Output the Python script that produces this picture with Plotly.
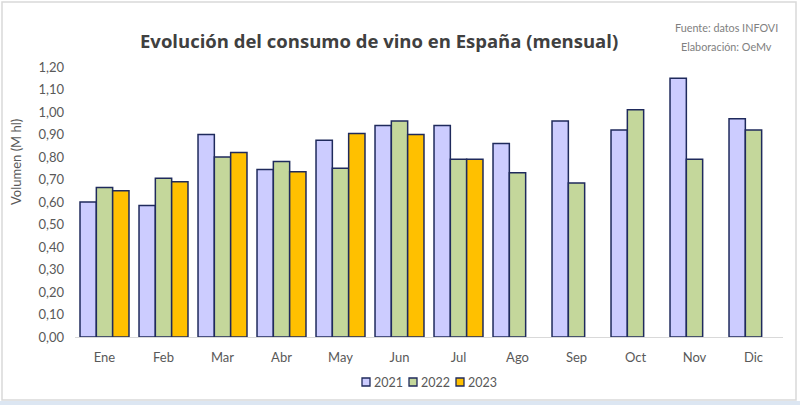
import plotly.graph_objects as go

months = ["Ene", "Feb", "Mar", "Abr", "May", "Jun", "Jul", "Ago", "Sep", "Oct", "Nov", "Dic"]
v2021 = [0.60, 0.585, 0.90, 0.745, 0.875, 0.94, 0.94, 0.86, 0.96, 0.92, 1.15, 0.97]
v2022 = [0.665, 0.706, 0.80, 0.78, 0.75, 0.96, 0.79, 0.73, 0.685, 1.01, 0.79, 0.92]
v2023 = [0.65, 0.69, 0.82, 0.735, 0.905, 0.90, 0.79, None, None, None, None, None]
series_names = ["2021", "2022", "2023"]
colors = ["#CCCCFF", "#C4D79B", "#FFC000"]
tick_vals = [i / 10 for i in range(13)]

W, H = 800, 405
L, R, T, B = 75, 17, 67, 68
pw, ph = W - L - R, H - T - B
EDGE = "#1F2A5C"
TXT = "#595959"

def px(x):
    return (x - L) / pw

def py(y):
    return (H - B - y) / ph

fig = go.Figure()
for name, vals, col in zip(series_names, [v2021, v2022, v2023], colors):
    fig.add_trace(go.Bar(
        x=months, y=vals, name=name, showlegend=False,
        marker=dict(color=col, line=dict(color=EDGE, width=1.5)),
    ))

fig.update_layout(
    width=W, height=H,
    margin=dict(l=L, r=R, t=T, b=B),
    paper_bgcolor="white", plot_bgcolor="white",
    separators=",.",
    barmode="group", bargap=0.17, bargroupgap=0,
    font=dict(family="Lato, Open Sans, sans-serif", color=TXT, size=12),
    xaxis=dict(
        showline=True, linecolor="#D9D9D9", linewidth=1,
        showgrid=False, ticks="", tickfont=dict(size=13, color=TXT),
        ticklabelstandoff=8,
    ),
    yaxis=dict(
        range=[0, 1.2], tickvals=tick_vals, tickformat=".2f",
        showgrid=False, zeroline=False, showline=False,
        tickfont=dict(size=13, color=TXT), ticklabelstandoff=10,
    ),
    showlegend=False,
)

# Title
fig.add_annotation(
    text="<b>Evolución del consumo de vino en España (mensual)</b>",
    xref="paper", yref="paper", x=px(379), y=py(41),
    xanchor="center", yanchor="middle", showarrow=False,
    font=dict(family="Open Sans, sans-serif", size=18.5, color="#404040"),
)
# Y axis title
fig.add_annotation(
    text="Volumen (M hl)", textangle=-90,
    xref="paper", yref="paper", x=px(16), y=py(162),
    xanchor="center", yanchor="middle", showarrow=False,
    font=dict(size=13, color=TXT),
)
# Source
fig.add_annotation(
    text="Fuente: datos INFOVI",
    xref="paper", yref="paper", x=px(726), y=py(27),
    xanchor="center", yanchor="middle", showarrow=False,
    font=dict(family="Lato, sans-serif", size=10.8, color="#808080"),
)
fig.add_annotation(
    text="Elaboración: OeMv",
    xref="paper", yref="paper", x=px(726), y=py(47),
    xanchor="center", yanchor="middle", showarrow=False,
    font=dict(family="Lato, sans-serif", size=10.8, color="#808080"),
)

# Custom compact legend
leg_x = [362, 409, 456]
leg_y = 382
for lx, name, col in zip(leg_x, series_names, colors):
    fig.add_shape(
        type="rect", xref="paper", yref="paper",
        x0=px(lx), x1=px(lx + 8), y0=py(leg_y + 4), y1=py(leg_y - 4),
        line=dict(color=EDGE, width=1.3), fillcolor=col,
    )
    fig.add_annotation(
        text=name, xref="paper", yref="paper", x=px(lx + 10), y=py(leg_y),
        xanchor="left", yanchor="middle", showarrow=False,
        font=dict(size=12.5, color=TXT),
    )

# Frame
fig.add_shape(
    type="rect", xref="paper", yref="paper",
    x0=px(2), x1=px(796), y0=py(400), y1=py(2),
    line=dict(color="#D9D9D9", width=1.5), layer="below",
)
fig.add_shape(
    type="rect", xref="paper", yref="paper",
    x0=px(0), x1=px(800), y0=py(405), y1=py(401),
    line=dict(width=0), fillcolor="#DCE6F2", layer="below",
)

fig.write_html(
    "out.html",
    config={"displayModeBar": False},
    post_script="document.body.style.margin='0';",
)
